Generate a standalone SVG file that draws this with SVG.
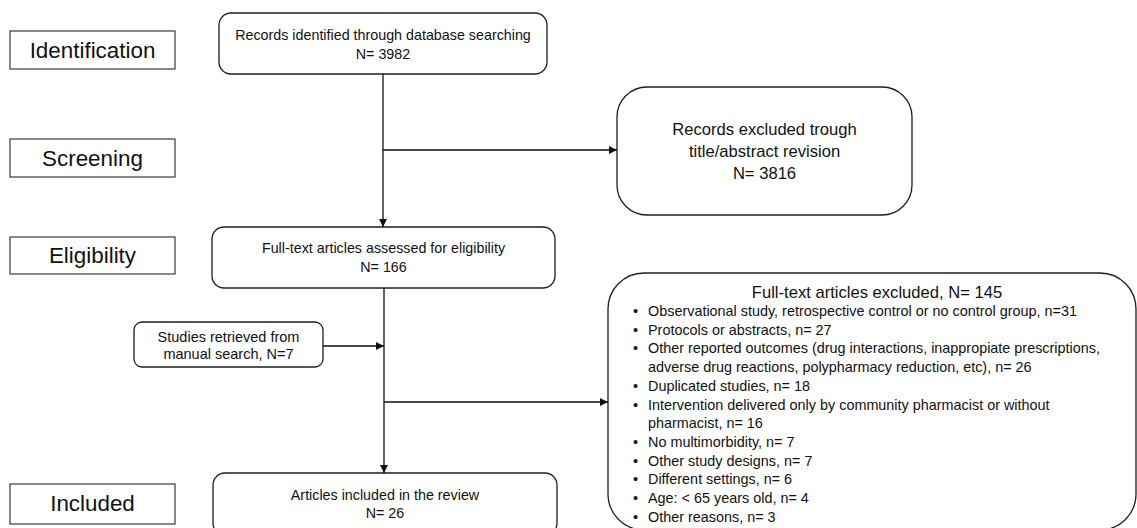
<svg xmlns="http://www.w3.org/2000/svg" width="1137" height="528" viewBox="0 0 1137 528">
<style>
.lbl{fill:#fff;stroke:#3a3a3a;stroke-width:1.2}
.box{fill:#fff;stroke:#1e1e1e;stroke-width:1.3}
.t{font-family:"Liberation Sans",Arial,sans-serif;fill:#111}
.big{font-size:22.4px}
.mid{font-size:16.6px}
.sm{font-size:14.3px}
.li{font-size:14.4px}
.ms{font-size:14.5px}
.c{text-anchor:middle}
.con{stroke:#111;stroke-width:1.3;fill:none}
</style>
<defs>
<marker id="ah" markerUnits="userSpaceOnUse" markerWidth="9" markerHeight="9" refX="8" refY="4" orient="auto">
<path d="M0,0 L8,4 L0,8 z" fill="#111"/>
</marker>
</defs>
<g id="stage-identification"><rect class="lbl" x="10" y="31" width="165" height="38"/><text class="t big c" x="92.5" y="58">Identification</text></g>
<g id="stage-screening"><rect class="lbl" x="10" y="139" width="165" height="38"/><text class="t big c" x="92.5" y="166">Screening</text></g>
<g id="stage-eligibility"><rect class="lbl" x="10" y="237" width="165" height="37"/><text class="t big c" x="92.5" y="263">Eligibility</text></g>
<g id="stage-included"><rect class="lbl" x="10" y="484" width="165" height="40"/><text class="t big c" x="92.5" y="511">Included</text></g>

<g id="records-identified"><rect class="box" x="219" y="13" width="328" height="61" rx="12"/>
<text class="t sm c" x="383" y="40">Records identified through database searching</text>
<text class="t sm c" x="383" y="59">N= 3982</text></g>

<g id="records-excluded"><rect class="box" x="617" y="87" width="295" height="128" rx="30"/>
<text class="t mid c" x="764.5" y="135">Records excluded trough</text>
<text class="t mid c" x="764.5" y="157">title/abstract revision</text>
<text class="t mid c" x="764.5" y="179">N= 3816</text></g>

<g id="fulltext-assessed"><rect class="box" x="212" y="227" width="343" height="61" rx="12"/>
<text class="t sm c" x="383.5" y="253">Full-text articles assessed for eligibility</text>
<text class="t sm c" x="383.5" y="272">N= 166</text></g>

<g id="manual-search"><rect class="box" x="134" y="322" width="189" height="45" rx="8"/>
<text class="t ms c" x="228.5" y="342">Studies retrieved from</text>
<text class="t ms c" x="228.5" y="359">manual search, N=7</text></g>

<g id="articles-included"><rect class="box" x="213" y="473" width="344" height="62" rx="12"/>
<text class="t sm c" x="385" y="500">Articles included in the review</text>
<text class="t sm c" x="385" y="518">N= 26</text></g>

<g id="fulltext-excluded"><rect class="box" x="608" y="273" width="528" height="257" rx="36"/>
<text class="t mid c" x="877" y="298">Full-text articles excluded, N= 145</text>
<g class="t li">
<text y="316"><tspan x="633">•</tspan><tspan x="648">Observational study, retrospective control or no control group, n=31</tspan></text>
<text y="334.7"><tspan x="633">•</tspan><tspan x="648">Protocols or abstracts, n= 27</tspan></text>
<text y="353.4"><tspan x="633">•</tspan><tspan x="648">Other reported outcomes (drug interactions, inappropiate prescriptions,</tspan></text>
<text y="372.1"><tspan x="648">adverse drug reactions, polypharmacy reduction, etc), n= 26</tspan></text>
<text y="390.8"><tspan x="633">•</tspan><tspan x="648">Duplicated studies, n= 18</tspan></text>
<text y="409.5"><tspan x="633">•</tspan><tspan x="648">Intervention delivered only by community pharmacist or without</tspan></text>
<text y="428.2"><tspan x="648">pharmacist, n= 16</tspan></text>
<text y="446.9"><tspan x="633">•</tspan><tspan x="648">No multimorbidity, n= 7</tspan></text>
<text y="465.6"><tspan x="633">•</tspan><tspan x="648">Other study designs, n= 7</tspan></text>
<text y="484.3"><tspan x="633">•</tspan><tspan x="648">Different settings, n= 6</tspan></text>
<text y="503"><tspan x="633">•</tspan><tspan x="648">Age: &lt; 65 years old, n= 4</tspan></text>
<text y="521.7"><tspan x="633">•</tspan><tspan x="648">Other reasons, n= 3</tspan></text>
</g></g>

<g id="connectors">
<line class="con" x1="383" y1="74" x2="383" y2="227" marker-end="url(#ah)"/>
<line class="con" x1="383" y1="150" x2="617" y2="150" marker-end="url(#ah)"/>
<line class="con" x1="384" y1="288" x2="384" y2="473" marker-end="url(#ah)"/>
<line class="con" x1="323" y1="346" x2="384" y2="346" marker-end="url(#ah)"/>
<line class="con" x1="384" y1="402" x2="608" y2="402" marker-end="url(#ah)"/>
</g>
</svg>
